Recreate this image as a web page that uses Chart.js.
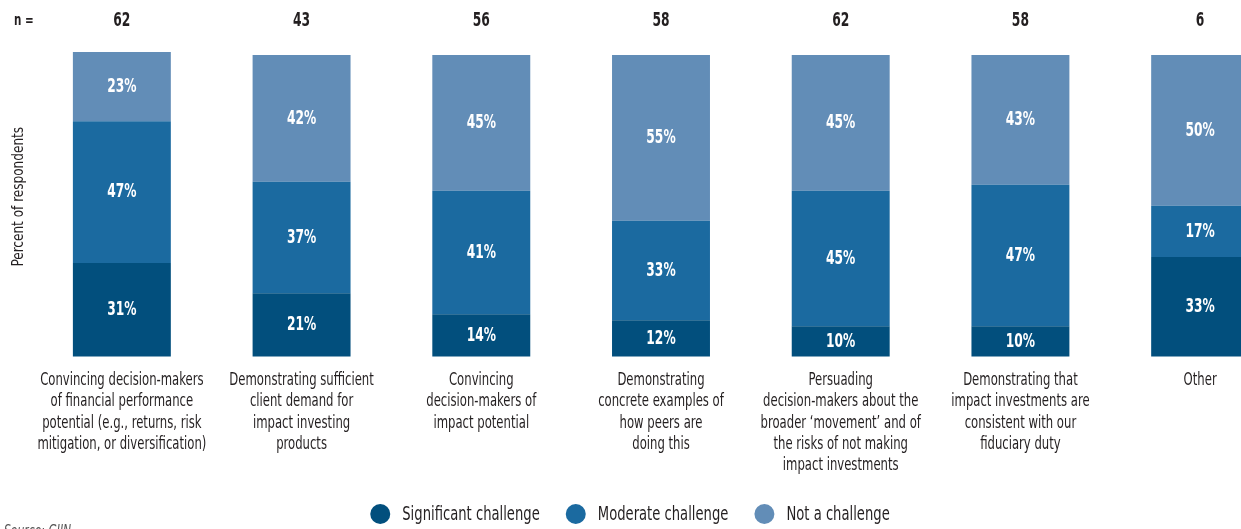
<!DOCTYPE html>
<html>
<head>
<meta charset="utf-8">
<script src="https://cdn.jsdelivr.net/npm/chart.js@4.4.1/dist/chart.umd.min.js"></script>
<style>
html,body{margin:0;padding:0;background:#fff;overflow:hidden;}
#wrap{width:1290px;height:529px;}
</style>
</head>
<body>
<div id="wrap"><canvas id="challenges_chart" width="1290" height="529"></canvas></div>
<script>
const categories = [
    ['Convincing decision-makers','of financial performance','potential (e.g., returns, risk','mitigation, or diversification)'],
    ['Demonstrating sufficient','client demand for','impact investing','products'],
    ['Convincing','decision-makers of','impact potential'],
    ['Demonstrating','concrete examples of','how peers are','doing this'],
    ['Persuading','decision-makers about the','broader \u2018movement\u2019 and of','the risks of not making','impact investments'],
    ['Demonstrating that','impact investments are','consistent with our','fiduciary duty'],
    ['Other']
];
const respondents = [62, 43, 56, 58, 62, 58, 6];
const significant = [31, 21, 14, 12, 10, 10, 33];
const moderate = [47, 37, 41, 33, 45, 47, 17];
const notChallenge = [23, 42, 45, 55, 45, 43, 50];

const FONT = '"DejaVu Sans Condensed", "Liberation Sans Narrow", sans-serif';
const TEXT = '#231f20';

// the house font is very narrow, so squeeze the text horizontally
function narrowText(ctx, text, x, y, sx){
    ctx.save();
    ctx.translate(x, y);
    ctx.scale(sx, 1);
    ctx.fillText(text, 0, 0);
    ctx.restore();
}

const textLayer = {
    id: 'textLayer',
    afterDatasetsDraw(chart){
        const ctx = chart.ctx, xs = chart.scales.x, area = chart.chartArea;
        ctx.save();
        ctx.textAlign = 'center';
        ctx.textBaseline = 'middle';

        // percentages inside the segments
        ctx.fillStyle = '#fff';
        ctx.font = 'bold 20px ' + FONT;
        chart.data.datasets.forEach((ds, i) => {
            chart.getDatasetMeta(i).data.forEach((bar, j) => {
                narrowText(ctx, ds.data[j] + '%', bar.x, (bar.y + bar.base) / 2, 0.68);
            });
        });

        // n counts above the bars
        ctx.fillStyle = TEXT;
        ctx.font = 'bold 19px ' + FONT;
        respondents.forEach((n, j) => narrowText(ctx, String(n), xs.getPixelForValue(j), 21, 0.72));
        ctx.textAlign = 'left';
        ctx.font = 'bold 16px ' + FONT;
        narrowText(ctx, 'n =', 14, 21, 0.72);

        // category labels
        ctx.textAlign = 'center';
        ctx.textBaseline = 'top';
        ctx.font = '18px ' + FONT;
        categories.forEach((lines, j) => {
            lines.forEach((line, k) => narrowText(ctx, line, xs.getPixelForValue(j), area.bottom + 15 + k * 21.2, 0.72));
        });

        // axis title
        ctx.save();
        ctx.translate(19, (area.top + area.bottom) / 2 - 9);
        ctx.rotate(-Math.PI / 2);
        ctx.textBaseline = 'middle';
        ctx.font = '16px ' + FONT;
        narrowText(ctx, 'Percent of respondents', 0, 0, 0.84);
        ctx.restore();

        // legend row
        const sx = 0.77, r = 10, gap = 12, spacing = 26;
        ctx.font = '19px ' + FONT;
        ctx.textAlign = 'left';
        ctx.textBaseline = 'middle';
        const items = chart.data.datasets.map(ds => ({label: ds.label, color: ds.backgroundColor, w: ctx.measureText(ds.label).width * sx}));
        const total = items.reduce((s, it) => s + 2 * r + gap + it.w, 0) + spacing * (items.length - 1);
        let x = 630 - total / 2;
        const y = 514;
        items.forEach(it => {
            ctx.fillStyle = it.color;
            ctx.beginPath();
            ctx.arc(x + r, y, r, 0, Math.PI * 2);
            ctx.fill();
            ctx.fillStyle = TEXT;
            narrowText(ctx, it.label, x + 2 * r + gap, y + 1, sx);
            x += 2 * r + gap + it.w + spacing;
        });

        // source line, cut off by the bottom edge
        ctx.font = 'italic 15px ' + FONT;
        ctx.fillStyle = '#555';
        ctx.textBaseline = 'alphabetic';
        narrowText(ctx, 'Source: GIIN', 4, 536, 0.8);
        ctx.restore();
    }
};

new Chart(document.getElementById('challenges_chart'), {
    type: 'bar',
    data: {
        labels: categories.map(c => c.join(' ')),
        datasets: [{
            label: 'Significant challenge',
            data: significant,
            backgroundColor: '#024f7d'
        }, {
            label: 'Moderate challenge',
            data: moderate,
            backgroundColor: '#1b6aa0'
        }, {
            label: 'Not a challenge',
            data: notChallenge,
            backgroundColor: '#628db7'
        }]
    },
    options: {
        responsive: false,
        animation: false,
        datasets: {
            bar: {
                categoryPercentage: 1,
                barPercentage: 0.545,
                borderWidth: 0,
                clip: false
            }
        },
        layout: {
            padding: {top: 55, left: 0, right: 0, bottom: 0}
        },
        plugins: {
            tooltip: {enabled: false},
            legend: {display: false}
        },
        scales: {
            x: {
                stacked: true,
                grid: {display: false, drawTicks: false},
                border: {display: false},
                ticks: {display: false},
                afterFit(scale){ scale.height = 172.5; }
            },
            y: {
                stacked: true,
                min: 0,
                max: 100,
                grid: {display: false, drawTicks: false},
                border: {display: false},
                ticks: {display: false},
                afterFit(scale){ scale.width = 32; }
            }
        }
    },
    plugins: [textLayer]
});
</script>
</body>
</html>
